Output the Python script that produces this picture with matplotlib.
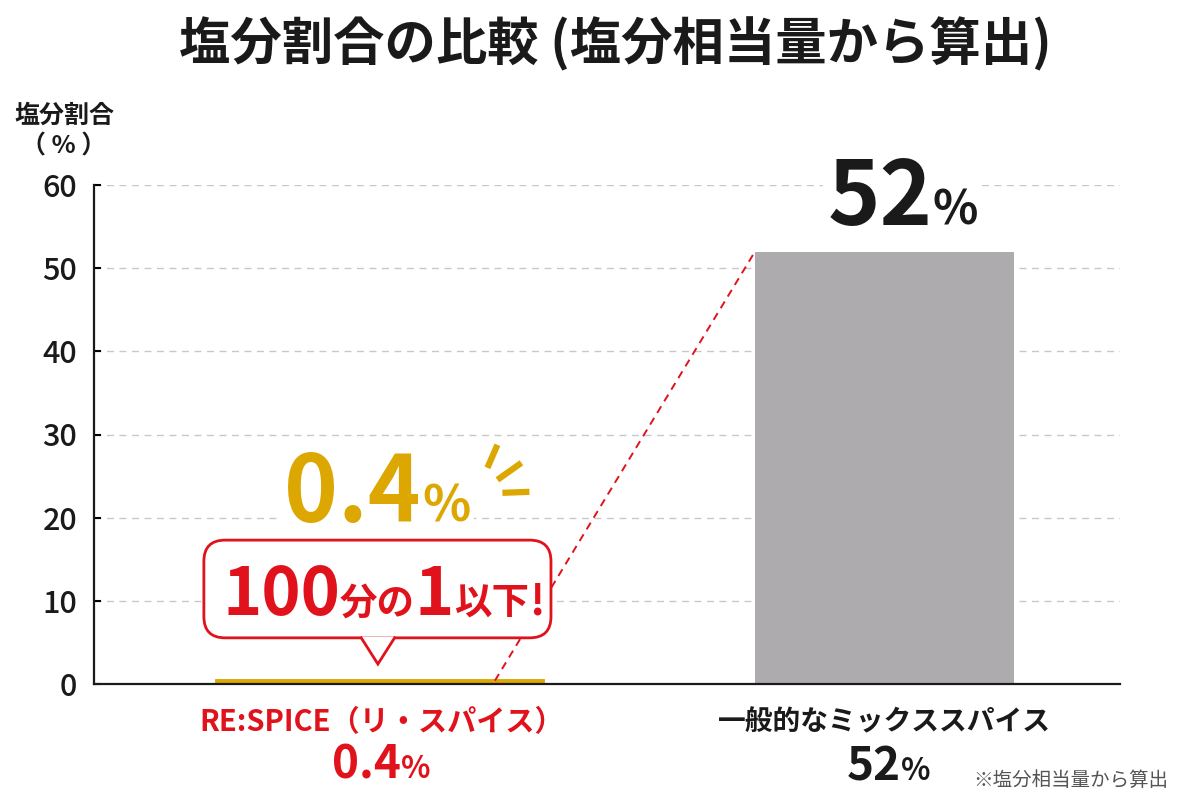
import matplotlib
matplotlib.use("Agg")
import matplotlib.pyplot as plt
import matplotlib.transforms as mtransforms
from matplotlib.patches import FancyBboxPatch, Polygon

plt.rcParams['font.family'] = ['Noto Sans CJK JP', 'DejaVu Sans']

# データ
categories = ["RE:SPICE（リ・スパイス）", "一般的なミックススパイス"]
values = [0.4, 52]
value_labels = ["0.4", "52"]
bar_widths = [0.644, 0.513]
yticks = [0, 10, 20, 30, 40, 50, 60]

GOLD = "#DCA700"
RED = "#E0121C"
GRAY = "#ADABAE"
BLACK = "#1A1A1A"

fig = plt.figure(figsize=(12, 8), dpi=100)
ax = fig.add_axes([94 / 1200, 1 - 684 / 800, (1120 - 94) / 1200, (684 - 185) / 800])
renderer = fig.canvas.get_renderer()

x = [0, 1]
ax.bar(x[0], values[0], width=bar_widths[0], color=GOLD, edgecolor=GOLD, linewidth=3.5, zorder=2)
ax.bar(x[1], values[1], width=bar_widths[1], color=GRAY, zorder=2)

ax.set_xlim(-0.565, 1.466)
ax.set_ylim(0, 60)
ax.set_yticks(yticks)
ax.set_xticks([])
ax.tick_params(axis='y', direction='in', length=5, width=1.5, pad=12,
               labelsize=22, labelcolor=BLACK)
for lab in ax.get_yticklabels():
    lab.set_fontweight('medium')
ax.yaxis.grid(True, color="#C8C8C8", linestyle=(0, (5, 4)), linewidth=1)
ax.set_axisbelow(True)
for s in ["top", "right"]:
    ax.spines[s].set_visible(False)
ax.spines["left"].set_linewidth(1.6)
ax.spines["bottom"].set_linewidth(1.6)
ax.spines["left"].set_color(BLACK)
ax.spines["bottom"].set_color(BLACK)


def rich_text(px, py, pieces, transform, dx=0, dy=0, box=False, zorder=5):
    # pieces: (text, size, color) を baseline 揃えで横に並べる
    arts = []
    widths = []
    for s, size, color in pieces:
        t = ax.text(px, py, s, fontsize=size, color=color, fontweight='bold',
                    va='baseline', ha='left', transform=transform, zorder=zorder,
                    clip_on=False)
        if box:
            t.set_bbox(dict(fc='white', ec='none', pad=3))
        arts.append(t)
        widths.append(t.get_window_extent(renderer).width)
    total = sum(widths)
    off = -total / 2 + dx
    for t, w in zip(arts, widths):
        t.set_transform(mtransforms.offset_copy(transform, fig=fig, x=off * 72 / fig.dpi,
                                                y=dy * 72 / fig.dpi, units='points'))
        off += w


# 上の大きな値ラベル
rich_text(x[1], 55.2, [(value_labels[1], 64, BLACK), ("%", 34, BLACK)],
          ax.transData, dx=18, box=True)
rich_text(x[0], 19.5, [(value_labels[0], 66, GOLD), ("%", 36, GOLD)],
          ax.transData, dx=-2, box=True)

# きらきら線
anchor = ax.transData.transform((x[0], 19.5))
strokes = [((118, 77), (108, 54)), ((142, 59), (118, 42)), ((123, 29), (150, 30))]
for (a, b) in strokes:
    ax.plot([anchor[0] + a[0], anchor[0] + b[0]], [anchor[1] + a[1], anchor[1] + b[1]],
            color=GOLD, linewidth=4.5, solid_capstyle='butt', transform=None, zorder=6)

# 破線（棒の頂点を結ぶ）
ax.plot([x[0] + bar_widths[0] * 0.355, x[1] - bar_widths[1] / 2], [values[0], values[1]],
        color=RED, linestyle=(0, (4, 3)), linewidth=1.4, zorder=3)

# 吹き出し
x_px = ax.transData.transform((1, 0))[0] - ax.transData.transform((0, 0))[0]
y_px = ax.transData.transform((0, 1))[1] - ax.transData.transform((0, 0))[1]
aspect = x_px / y_px
bx0, bx1, by0, by1 = x[0] - 0.3475, x[0] + 0.3396, 5.55, 17.3
r = 0.042
bubble = FancyBboxPatch((bx0 + r, by0 + r * aspect), (bx1 - bx0) - 2 * r, (by1 - by0) - 2 * r * aspect,
                        boxstyle=f"round,pad={r},rounding_size={r}", mutation_aspect=aspect,
                        fc='white', ec=RED, linewidth=2, zorder=7)
ax.add_patch(bubble)
tip_x, half = x[0] - 0.003, 0.033
ax.add_patch(Polygon([(tip_x - half, by0 + 0.15), (tip_x, 2.4), (tip_x + half, by0 + 0.15)],
                     closed=False, fc='white', ec='none', zorder=8))
ax.plot([tip_x - half, tip_x, tip_x + half], [by0, 2.4, by0], color=RED, linewidth=2,
        zorder=9, solid_joinstyle='miter')
rich_text(x[0], 8.3, [("100", 48, RED), ("分の", 27, RED), ("1", 48, RED),
                      ("以下", 27, RED), ("!", 30, RED)],
          ax.transData, dx=4, zorder=10)

# 下のカテゴリラベル
xt = ax.get_xaxis_transform()
rich_text(x[0], -0.094, [(categories[0], 21, RED)], xt, dx=2)
rich_text(x[0], -0.1884, [(value_labels[0], 33, RED), ("%", 22, RED)], xt, dx=2)
rich_text(x[1], -0.094, [(categories[1], 20, BLACK)], xt, dx=0)
rich_text(x[1], -0.1924, [(value_labels[1], 33, BLACK), ("%", 22, BLACK)], xt, dx=4)

# タイトル・軸ラベル・注記
fig.text(0.513, 0.925, "塩分割合の比較 (塩分相当量から算出)", ha='center', va='baseline',
         fontsize=37, fontweight='bold', color=BLACK)
fig.text(64 / 1200, 1 - 123 / 800, "塩分割合", ha='center', va='baseline',
         fontsize=18, fontweight='bold', color=BLACK)
fig.text(64 / 1200, 1 - 154 / 800, "（ % ）", ha='center', va='baseline',
         fontsize=18, fontweight='bold', color=BLACK)
fig.text(1168 / 1200, 1 - 786 / 800, "※塩分相当量から算出", ha='right', va='baseline',
         fontsize=14, color="#555555")

fig.savefig("out.png", dpi=100, facecolor='white')
